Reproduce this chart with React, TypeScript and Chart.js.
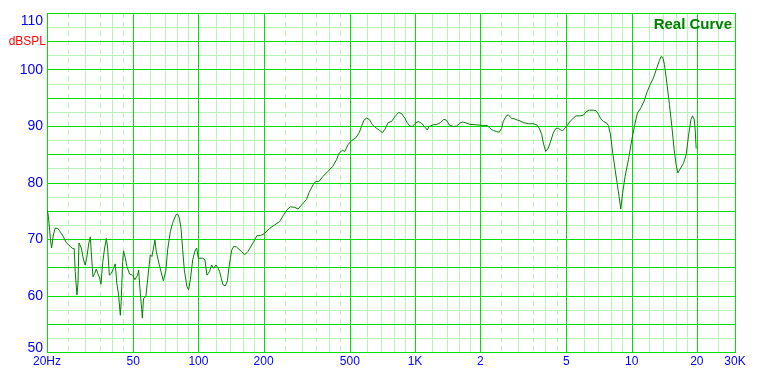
import React, { useEffect, useRef } from "react";
import { Chart, registerables } from "chart.js";

Chart.register(...registerables);

// Frequency (Hz) of each curve point
const FREQ_HZ: number[] = [
  20.1, 20.3, 20.8, 21.0, 21.4, 21.8, 22.4, 23.0, 23.8, 24.5,
  25.6, 26.3, 26.7, 27.0, 27.5, 27.8, 28.1, 28.8, 29.5, 30.0,
  30.5, 31.2, 31.7, 32.0, 32.6, 33.2, 33.8, 34.3, 35.0, 35.5,
  36.2, 36.9, 37.6, 38.1, 38.8, 39.6, 40.6, 41.3, 42.0, 42.8,
  43.6, 44.0, 44.7, 45.1, 46.0, 46.8, 48.1, 49.7, 50.9, 52.4,
  53.0, 53.9, 54.7, 55.1, 55.8, 57.2, 58.9, 60.0, 61.0, 63.0,
  63.9, 66.0, 68.9, 70.8, 72.1, 74.2, 76.0, 78.8, 80.2, 81.7,
  83.1, 84.6, 86.1, 88.5, 90.1, 91.8, 94.1, 96.8, 98.2, 99.9,
  104.6, 107.2, 109.5, 112.4, 115.1, 117.6, 120.5, 122.7, 125.4, 127.6,
  129.8, 133.2, 136.1, 138.4, 140.5, 142.4, 145.5, 149.7, 157.9, 163.5,
  169.4, 178.6, 186.4, 193.3, 202.4, 213.4, 225.1, 237.4, 247.7, 256.6,
  266.0, 278.5, 288.4, 299.0, 315.4, 324.2, 338.3, 348.2, 360.6, 376.3,
  396.9, 415.9, 433.9, 446.1, 462.5, 474.0, 490.9, 509.0, 532.8, 551.9,
  566.1, 580.2, 597.1, 613.8, 636.4, 664.1, 687.8, 707.8, 725.4, 751.3,
  778.9, 798.2, 821.5, 841.8, 866.3, 897.3, 919.5, 946.3, 969.8, 998,
  1034, 1072, 1110, 1138, 1162, 1212, 1265, 1312, 1359, 1399,
  1438, 1501, 1556, 1624, 1669, 1731, 1793, 1925, 2065, 2155,
  2217, 2297, 2381, 2448, 2512, 2555, 2629, 2695, 2794, 2863,
  2946, 3052, 3161, 3334, 3516, 3646, 3748, 3844, 3910, 4012,
  4124, 4230, 4350, 4476, 4588, 4706, 4808, 4926, 5048, 5194,
  5380, 5536, 5778, 5984, 6158, 6378, 6656, 6850, 7020, 7202,
  7404, 7676, 7808, 7976, 8182, 8386, 8592, 8750, 8910, 9062,
  9328, 9662, 10018, 10376, 10632, 11024, 11418, 11750, 12170, 12606,
  13070, 13436, 13682, 13932, 14172, 14538, 14946, 15332, 15712, 16050,
  16342, 16748, 17346, 17852, 18294, 18768, 19090, 19438, 19646, 19852,
];

// Sound pressure level (dBSPL) of each curve point
const SPL_DB: number[] = [
  75.0, 74.0, 69.5, 68.4, 70.7, 71.9, 71.9, 71.3, 70.4, 69.4,
  68.7, 68.3, 68.3, 64.2, 60.1, 62.2, 69.3, 68.4, 66.3, 65.4,
  66.6, 69.3, 70.4, 67.8, 63.3, 63.9, 64.7, 63.9, 63.1, 62.0,
  66.0, 68.4, 70.1, 68.4, 63.6, 63.9, 64.8, 65.6, 62.2, 60.1,
  56.5, 58.9, 66.0, 67.9, 66.6, 65.1, 63.8, 63.6, 62.8, 63.6,
  64.5, 60.4, 57.7, 56.0, 59.5, 59.8, 64.5, 67.2, 66.9, 69.8,
  67.8, 65.4, 62.6, 64.5, 68.1, 71.3, 72.8, 74.3, 74.4, 73.7,
  71.9, 68.1, 64.5, 61.6, 61.0, 62.8, 66.3, 68.1, 68.4, 66.6,
  66.6, 66.3, 63.6, 64.2, 65.4, 64.8, 65.4, 65.0, 64.2, 63.0,
  61.9, 61.7, 62.6, 65.0, 66.6, 68.0, 68.7, 68.6, 67.8, 67.2,
  67.8, 69.3, 70.6, 70.6, 71.0, 71.9, 72.5, 73.1, 74.3, 75.2,
  75.7, 75.6, 75.3, 76.0, 77.0, 78.2, 79.6, 80.2, 80.2, 81.1,
  82.0, 82.8, 84.0, 85.2, 85.7, 85.5, 86.7, 87.4, 87.9, 88.8,
  89.9, 91.0, 91.4, 91.2, 90.2, 89.6, 89.2, 88.8, 89.4, 90.6,
  90.8, 91.4, 92.0, 92.4, 92.2, 91.4, 90.6, 90.0, 89.9, 90.4,
  90.8, 90.5, 89.8, 89.3, 89.9, 90.2, 90.3, 90.6, 91.2, 91.0,
  90.2, 89.9, 90.0, 90.6, 90.7, 90.5, 90.3, 90.2, 90.1, 90.1,
  89.6, 89.2, 89.0, 88.9, 89.6, 90.8, 91.7, 92.0, 91.3, 91.3,
  91.1, 90.9, 90.6, 90.4, 90.4, 90.2, 89.6, 88.5, 87.0, 85.5,
  86.1, 87.3, 88.8, 89.6, 89.6, 89.3, 89.2, 89.6, 90.1, 90.8,
  91.4, 91.8, 91.8, 91.9, 92.5, 92.8, 92.8, 92.7, 92.1, 91.3,
  90.8, 90.5, 90.1, 88.6, 85.2, 82.3, 79.6, 77.5, 75.3, 77.8,
  81.1, 84.0, 87.6, 90.5, 92.3, 93.2, 94.4, 95.9, 97.3, 98.5,
  100.3, 101.6, 102.3, 102.1, 100.9, 97.6, 93.8, 89.9, 85.8, 83.1,
  81.7, 82.4, 83.4, 84.9, 88.2, 91.1, 91.8, 91.2, 89.4, 86.0,
];

const X_MIN = 20;
const X_MAX = 30000;
const Y_MIN = 50;
const Y_MAX = 110;

const Y_MAJOR_GRID = [55, 60, 65, 70, 75, 80, 85, 90, 95, 100, 105];
const Y_MINOR_GRID = [52.5, 57.5, 62.5, 67.5, 72.5, 77.5, 82.5, 87.5, 92.5, 97.5, 102.5, 107.5];
const Y_TICK_LABELS = [50, 60, 70, 80, 90, 100, 110];

const X_MAJOR_GRID = [50, 100, 200, 500, 1000, 2000, 5000, 10000, 20000];
const X_MINOR_GRID = [
  30, 40, 60, 70, 80, 90, 120, 140, 160, 180,
  300, 400, 600, 700, 800, 900, 1200, 1400, 1600, 1800,
  3000, 4000, 6000, 7000, 8000, 9000, 12000, 14000, 16000, 18000, 25000,
];
const X_DASHED_GRID = [25, 35, 45, 250, 350, 450, 2500, 3500, 4500];
const X_TICK_VALUES = [20, 50, 100, 200, 500, 1000, 2000, 5000, 10000, 20000, 30000];
const X_TICK_LABELS = ["20Hz", "50", "100", "200", "500", "1K", "2", "5", "10", "20", "30K"];

const Y_UNIT = "dBSPL";
const CURVE_NAME = "Real Curve";

const MAJOR_COLOR = "#00e000";
const MINOR_COLOR = "#b8f4b8";
const CURVE_COLOR = "#008000";
const LABEL_COLOR = "#0000ff";
const FONT = "'Liberation Sans', Arial, sans-serif";

const gridPlugin = {
  id: "customGrid",
  beforeDatasetsDraw(chart: any) {
    const { ctx, chartArea, scales } = chart;
    const xs = scales.x;
    const ys = scales.y;
    const { left, right, top, bottom } = chartArea;
    const crisp = (v: number) => Math.round(v) + 0.5;
    ctx.save();
    ctx.lineWidth = 1;

    const vLine = (val: number, color: string, dash: number[]) => {
      const x = crisp(xs.getPixelForValue(val));
      ctx.strokeStyle = color;
      ctx.setLineDash(dash);
      ctx.beginPath();
      ctx.moveTo(x, top);
      ctx.lineTo(x, bottom);
      ctx.stroke();
    };
    const hLine = (val: number, color: string) => {
      const y = crisp(ys.getPixelForValue(val));
      ctx.strokeStyle = color;
      ctx.setLineDash([]);
      ctx.beginPath();
      ctx.moveTo(left, y);
      ctx.lineTo(right, y);
      ctx.stroke();
    };

    Y_MINOR_GRID.forEach((v) => hLine(v, MINOR_COLOR));
    X_MINOR_GRID.forEach((v) => vLine(v, MINOR_COLOR, []));
    X_DASHED_GRID.forEach((v) => vLine(v, MINOR_COLOR, [5, 4]));
    Y_MAJOR_GRID.forEach((v) => hLine(v, MAJOR_COLOR));
    X_MAJOR_GRID.forEach((v) => vLine(v, MAJOR_COLOR, []));

    // border
    ctx.setLineDash([]);
    ctx.strokeStyle = MAJOR_COLOR;
    const l = crisp(xs.getPixelForValue(X_MIN));
    const r = crisp(xs.getPixelForValue(X_MAX));
    const t = crisp(ys.getPixelForValue(Y_MAX));
    const b = crisp(ys.getPixelForValue(Y_MIN));
    ctx.strokeRect(l, t, r - l, b - t);
    ctx.restore();
  },
  afterDraw(chart: any) {
    const { ctx, chartArea, scales } = chart;
    const xs = scales.x;
    const ys = scales.y;
    const { left, right, top, bottom } = chartArea;
    ctx.save();

    // Y labels
    ctx.fillStyle = LABEL_COLOR;
    ctx.font = `14px ${FONT}`;
    ctx.textAlign = "right";
    ctx.textBaseline = "middle";
    Y_TICK_LABELS.forEach((v) => {
      let y = ys.getPixelForValue(v);
      y = Math.max(top + 8, Math.min(bottom - 4, y));
      ctx.fillText(String(v), left - 4, y + 0.5);
    });

    // unit label
    ctx.fillStyle = "#ff0000";
    ctx.font = `12px ${FONT}`;
    ctx.textAlign = "right";
    ctx.textBaseline = "alphabetic";
    ctx.fillText(Y_UNIT, left - 1, ys.getPixelForValue(105) + 3.5);

    // X labels
    ctx.fillStyle = LABEL_COLOR;
    ctx.font = `12px ${FONT}`;
    ctx.textAlign = "center";
    ctx.textBaseline = "alphabetic";
    X_TICK_VALUES.forEach((v, i) => {
      const x = xs.getPixelForValue(v);
      ctx.fillText(X_TICK_LABELS[i], x, bottom + 13);
    });

    // curve name
    ctx.fillStyle = CURVE_COLOR;
    ctx.font = `bold 15px ${FONT}`;
    ctx.textAlign = "right";
    ctx.fillText(CURVE_NAME, right - 3, top + 16);
    ctx.restore();
  },
};

export default function App() {
  const canvasRef = useRef<HTMLCanvasElement | null>(null);

  useEffect(() => {
    const canvas = canvasRef.current;
    if (!canvas) return;
    const points = FREQ_HZ.map((f, i) => ({ x: f, y: SPL_DB[i] }));
    const chart = new Chart(canvas, {
      type: "line",
      data: {
        datasets: [
          {
            label: CURVE_NAME,
            data: points,
            borderColor: CURVE_COLOR,
            borderWidth: 1,
            pointRadius: 0,
            tension: 0,
            fill: false,
          },
        ],
      },
      options: {
        responsive: false,
        animation: false,
        devicePixelRatio: 1,
        layout: { padding: { left: 47, top: 13, right: 32, bottom: 22 } },
        scales: {
          x: { type: "logarithmic", min: X_MIN, max: X_MAX, display: false },
          y: { type: "linear", min: Y_MIN, max: Y_MAX, display: false },
        },
        plugins: {
          legend: { display: false },
          tooltip: { enabled: false },
        },
      },
      plugins: [gridPlugin],
    });
    return () => chart.destroy();
  }, []);

  return (
    <div
      style={{
        position: "fixed",
        left: 0,
        top: 0,
        width: 767,
        height: 374,
        background: "#ffffff",
      }}
    >
      <canvas ref={canvasRef} width={767} height={374} style={{ display: "block" }} />
    </div>
  );
}
